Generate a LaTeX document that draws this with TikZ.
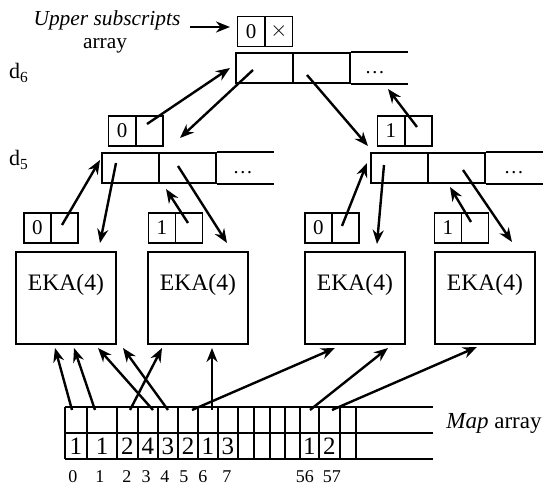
\documentclass[tikz,border=0pt]{standalone}
\usepackage{fontspec}
\setmainfont{Liberation Serif}
\usetikzlibrary{arrows.meta}
\begin{document}
\begin{tikzpicture}[x=0.5pt,y=-0.5pt,
  ln/.style={line width=0.8pt},
  sc/.style={draw, line width=0.8pt, minimum width=13.5pt, minimum height=15pt, inner sep=0pt, font=\fontsize{10.5}{12}\selectfont},
  bc/.style={draw, line width=0.8pt, minimum width=28.5pt, minimum height=15pt, inner sep=0pt},
  eka/.style={draw, line width=1.1pt, minimum width=50pt, minimum height=46pt, inner sep=0pt},
  ekat/.style={font=\fontsize{11.8}{14}\selectfont},
  dig/.style={font=\fontsize{12.5}{14}\selectfont, inner sep=0pt},
  idx/.style={font=\fontsize{9}{11}\selectfont, inner sep=0pt},
  lab/.style={font=\fontsize{11}{13}\selectfont, inner sep=0pt},
  arr/.style={-{Stealth[length=7pt,width=5.5pt]}, line width=1.2pt},
]
\fill[white] (0,0) rectangle (543,486);
\useasboundingbox (0,0) rectangle (543,486);

% labels
\node[lab, font=\itshape\fontsize{10.7}{13}\selectfont] (us) at (107,20) {Upper subscripts};
\node[lab, font=\fontsize{10.7}{13}\selectfont] (usa) at (105,46) {array};
\node[lab] (d6) at (19,73) {d\textsubscript{6}};
\node[lab] (d5) at (19,160) {d\textsubscript{5}};
\node[lab, font=\fontsize{11.5}{13}\selectfont] (maplab) at (494,423) {\textit{Map} array};

% top box
\node[sc] (tb0) at (251,31.5) {0};
\node[sc] (tbx) at (279,31.5) {$\times$};

% d6 array
\node[bc] (d6a) at (264.5,68) {};
\node[bc] (d6b) at (321.5,68) {};
\draw[ln] (d6b.north east) -- ++(57,0);
\draw[ln] (d6b.south east) -- ++(57,0);
\node[inner sep=0pt] (d6c) at (375,73) {\dots};

% d5 small boxes
\node[sc] (sl0) at (122,131) {0};
\node[sc] (sl1) at (149.5,131) {};
\node[sc] (sr0) at (391,131) {1};
\node[sc] (sr1) at (418.5,131) {};

% d5 arrays
\node[bc] (dla) at (130.5,168) {};
\node[bc] (dlb) at (187.5,168) {};
\draw[ln] (dlb.north east) -- ++(57,0);
\draw[ln] (dlb.south east) -- ++(57,0);
\node[inner sep=0pt] (dlc) at (243,173) {\dots};
\node[bc] (dra) at (399.5,168) {};
\node[bc] (drb) at (456.5,168) {};
\draw[ln] (drb.north east) -- ++(57,0);
\draw[ln] (drb.south east) -- ++(57,0);
\node[inner sep=0pt] (drc) at (514,173) {\dots};

% bottom small boxes
\node[sc] (b1a) at (37.5,228) {0};
\node[sc] (b1b) at (64.5,228) {};
\node[sc] (b2a) at (162,228) {1};
\node[sc] (b2b) at (189,228) {};
\node[sc] (b3a) at (318.5,228) {0};
\node[sc] (b3b) at (345.5,228) {};
\node[sc] (b4a) at (448,228) {1};
\node[sc] (b4b) at (475,228) {};

% EKA boxes
\node[eka] (e1) at (66,298) {};
\node[eka] (e2) at (198,298) {};
\node[eka] (e3) at (355,298) {};
\node[eka] (e4) at (485,298) {};
\node[ekat] (e1t) at (66,285) {EKA(4)};
\node[ekat] (e2t) at (198,285) {EKA(4)};
\node[ekat] (e3t) at (355,285) {EKA(4)};
\node[ekat] (e4t) at (485,285) {EKA(4)};

% map array
\draw[ln] (65,407) -- (433,407);
\draw[ln] (65,433) -- (433,433);
\draw[ln] (65,459) -- (433,459);
\foreach \x in {65,87,117,138,158,178,198,218,238,254,270,285,300,319,340,356}
  \draw[ln] (\x,407) -- (\x,459);
\node[dig] (m0) at (76,446) {1};
\node[dig] (m1) at (102,446) {1};
\node[dig] (m2) at (127.5,446) {2};
\node[dig] (m3) at (148,446) {4};
\node[dig] (m4) at (168,446) {3};
\node[dig] (m5) at (188,446) {2};
\node[dig] (m6) at (208,446) {1};
\node[dig] (m7) at (228,446) {3};
\node[dig] (m56) at (309.5,446) {1};
\node[dig] (m57) at (329.5,446) {2};
\node[idx] (i0) at (73,477) {0};
\node[idx] (i1) at (100,477) {1};
\node[idx] (i2) at (127,477) {2};
\node[idx] (i3) at (146,477) {3};
\node[idx] (i4) at (165,477) {4};
\node[idx] (i5) at (184,477) {5};
\node[idx] (i6) at (203,477) {6};
\node[idx] (i7) at (227,477) {7};
\node[idx] (i56) at (305,477) {56};
\node[idx] (i57) at (332,477) {57};

% connector end points
\coordinate (usE) at (190,27);
\coordinate (tbW) at (230,27);
\coordinate (p1s) at (147,124); \coordinate (p1e) at (230,68);
\coordinate (p2s) at (253,70);  \coordinate (p2e) at (180,138);
\coordinate (p3s) at (307,75);  \coordinate (p3e) at (368,146);
\coordinate (p4s) at (417,127); \coordinate (p4e) at (388,89);
\coordinate (p5s) at (62,225);  \coordinate (p5e) at (100,160);
\coordinate (p6s) at (116,163); \coordinate (p6e) at (100,243);
\coordinate (p7s) at (188,223); \coordinate (p7e) at (166,189);
\coordinate (p8s) at (178,166); \coordinate (p8e) at (227,243);
\coordinate (p9s) at (342,226); \coordinate (p9e) at (367,163);
\coordinate (p10s) at (384,165); \coordinate (p10e) at (377,244);
\coordinate (p11s) at (471,222); \coordinate (p11e) at (450,187);
\coordinate (p12s) at (463,170); \coordinate (p12e) at (512,242);
\coordinate (qa) at (72,410);  \coordinate (ta) at (55,348);
\coordinate (qb) at (95,410);  \coordinate (tb) at (74,348);
\coordinate (qc) at (153,410); \coordinate (tc) at (98,348);
\coordinate (qd) at (168,410); \coordinate (td) at (123,348);
\coordinate (qe) at (130,410); \coordinate (te) at (162,348);
\coordinate (qf) at (212,410); \coordinate (tf) at (212,348);
\coordinate (qg) at (192,410); \coordinate (tg) at (335,348);
\coordinate (qh) at (310,410); \coordinate (th) at (388,348);
\coordinate (qi) at (332,410); \coordinate (ti) at (477,347);

% connectors
\draw[arr] (usE) -- (tbW);
\draw[arr] (p1s) -- (p1e);
\draw[arr] (p2s) -- (p2e);
\draw[arr] (p3s) -- (p3e);
\draw[arr] (p4s) -- (p4e);
\draw[arr] (p5s) -- (p5e);
\draw[arr] (p6s) -- (p6e);
\draw[arr] (p7s) -- (p7e);
\draw[arr] (p8s) -- (p8e);
\draw[arr] (p9s) -- (p9e);
\draw[arr] (p10s) -- (p10e);
\draw[arr] (p11s) -- (p11e);
\draw[arr] (p12s) -- (p12e);
\draw[arr] (qa) -- (ta);
\draw[arr] (qb) -- (tb);
\draw[arr] (qc) -- (tc);
\draw[arr] (qd) -- (td);
\draw[arr] (qe) -- (te);
\draw[arr] (qf) -- (tf);
\draw[arr] (qg) -- (tg);
\draw[arr] (qh) -- (th);
\draw[arr] (qi) -- (ti);
\end{tikzpicture}
\end{document}
